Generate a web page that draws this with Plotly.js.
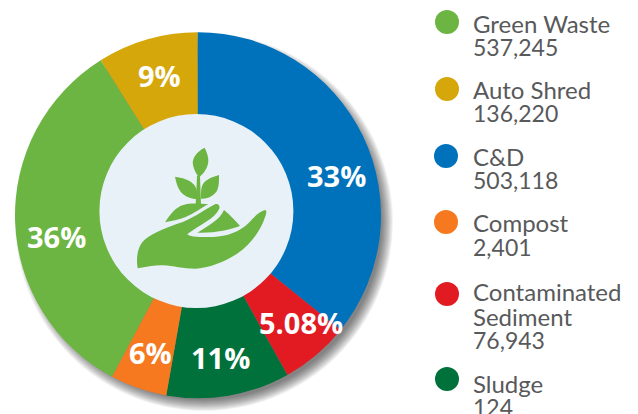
<!DOCTYPE html>
<html><head><meta charset="utf-8">
<script src="https://cdn.plot.ly/plotly-3.0.1.min.js"></script>
<style>html,body{margin:0;padding:0;background:#fff}#c{width:638px;height:414px}</style>
</head><body><div id="c"></div>
<script>
const W=638,H=414;
// Pie, clockwise from the lime slice
const sliceNames=['Green Waste','Auto Shred','C&D','Contaminated Sediment','Sludge','Compost'];
const sliceShares=[33.3,8.9,35.8,6.1,10.9,5.0];
const sliceColors=['#6CB543','#D5A70B','#0072BC','#E21B23','#00713A','#F6791F'];
const sliceLabels=['36%','9%','33%','5.08%','11%','6%'];
const labelX=[56,159,336,301,220,150];
const labelY=[236,75,175,322,357,352];
// Legend
const legendNames=[['Green Waste'],['Auto Shred'],['C&D'],['Compost'],['Contaminated','Sediment'],['Sludge']];
const legendValues=['537,245','136,220','503,118','2,401','76,943','124'];
const legendColors=['#6CB543','#D5A70B','#0072BC','#F6791F','#E21B23','#00713A'];
const legendTop=[23,89,156,223,291,383];
const dotY=[22,89,156,222,294,379];
const dotX=[447,447,446,446,447,447];
const nx=x=>x/W, ny=y=>1-y/H;
const ic=p=>p.replace(/(-?[\d.]+),(-?[\d.]+)/g,(m,a,b)=>nx(100+a/3)+','+ny(110+b/3));
const iconPaths=[
 'M314,113 C290,125 275,145 279,165 C282,182 292,195 296,203 C305,195 322,180 325,155 C326,140 320,125 314,113 Z',
 'M291,198 L300,198 L303,284 L287,284 Z',
 'M225,200 C245,203 270,208 283,225 C290,235 291,245 293,258 L301,268 C280,268 255,262 242,245 C232,232 228,215 225,200 Z',
 'M357,195 C340,200 318,207 309,222 C303,232 303,245 303,266 C325,268 345,255 352,240 C358,225 357,210 357,195 Z',
 'M195,337 C210,315 225,292 250,285 C270,278 300,280 325,283 C310,290 280,312 255,322 C235,330 215,333 195,337 Z',
 'M372,300 C390,315 405,330 420,348 C390,360 340,370 292,368 C320,350 360,330 372,300 Z',
 'M113,475 C108,445 112,415 128,395 C145,375 190,355 250,335 C285,322 320,295 345,283 C355,279 362,288 357,298 C345,325 300,345 262,372 C265,380 300,382 340,381 C380,380 420,365 445,340 C465,318 480,303 495,300 C503,302 498,315 490,335 C475,370 450,405 410,432 C375,455 325,475 285,476 C250,476 220,468 190,466 C165,465 140,470 113,475 Z'
];
const circle=(cx,cy,r,fill,layer,op)=>({type:'circle',xref:'paper',yref:'paper',x0:nx(cx-r),x1:nx(cx+r),y0:ny(cy+r),y1:ny(cy-r),fillcolor:fill,line:{width:0},layer:layer,opacity:op===undefined?1:op});
const shapes=[];
for(let i=0;i<12;i++) shapes.push(circle(204,222,189-i*1.0,'#000','below',0.05));
shapes.push(circle(196.4,211,97,'#E8F1F8','above'));
iconPaths.forEach(p=>shapes.push({type:'path',xref:'paper',yref:'paper',path:ic(p),fillcolor:'#6CB543',line:{width:0},layer:'above'}));
legendColors.forEach((c,i)=>shapes.push(circle(dotX[i],dotY[i],12,c,'above')));
const ann=[];
const txt=(x,y,t,f,anchor)=>ann.push({xref:'paper',yref:'paper',x:nx(x),y:ny(y),text:t,showarrow:false,xanchor:anchor,yanchor:'middle',font:f,borderpad:0,captureevents:false});
const LF={family:'Lato,sans-serif',size:24,color:'#58595B'};
const VF={family:'Lato,sans-serif',size:23,color:'#58595B'};
const PF={family:'"Open Sans",sans-serif',size:29,color:'#fff'};
sliceLabels.forEach((t,i)=>txt(labelX[i],labelY[i],'<b>'+t+'</b>',PF,'center'));
legendNames.forEach((lines,i)=>{
  let y=legendTop[i];
  lines.forEach(l=>{txt(472,y,l.replace('&','&amp;'),LF,'left');y+=25;});
  txt(472,y-1,legendValues[i],VF,'left');
});
Plotly.newPlot('c',[{type:'pie',labels:sliceNames,values:sliceShares,sort:false,direction:'clockwise',rotation:208,
  marker:{colors:sliceColors,line:{width:0}},textinfo:'none',hoverinfo:'none',showlegend:false,
  domain:{x:[15/W,381/W],y:[1-398.5/H,1-32/H]}}],
 {width:W,height:H,margin:{l:0,r:0,t:0,b:0,pad:0},paper_bgcolor:'#fff',showlegend:false,shapes:shapes,annotations:ann},
 {displayModeBar:false,staticPlot:true});
</script></body></html>
